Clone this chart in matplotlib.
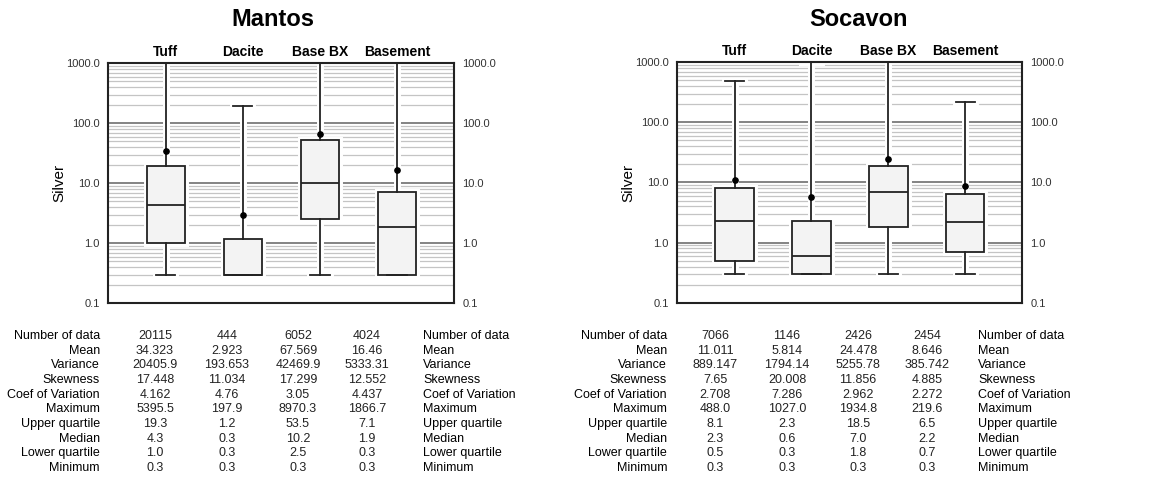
import matplotlib
matplotlib.use("Agg")
import matplotlib.pyplot as plt
from matplotlib.ticker import LogLocator, FixedLocator, FixedFormatter, NullFormatter

plt.rcParams["font.family"] = ["Liberation Sans", "DejaVu Sans"]

categories = ["Tuff", "Dacite", "Base BX", "Basement"]

stat_names = ["Number of data", "Mean", "Variance", "Skewness", "Coef of Variation",
              "Maximum", "Upper quartile", "Median", "Lower quartile", "Minimum"]

# Mantos
mantos_min = [0.3, 0.3, 0.3, 0.3]
mantos_q1 = [1.0, 0.3, 2.5, 0.3]
mantos_median = [4.3, 0.3, 10.2, 1.9]
mantos_q3 = [19.3, 1.2, 53.5, 7.1]
mantos_max = [5395.5, 197.9, 8970.3, 1866.7]
mantos_mean = [34.323, 2.923, 67.569, 16.46]
mantos_table = [
    ["20115", "444", "6052", "4024"],
    ["34.323", "2.923", "67.569", "16.46"],
    ["20405.9", "193.653", "42469.9", "5333.31"],
    ["17.448", "11.034", "17.299", "12.552"],
    ["4.162", "4.76", "3.05", "4.437"],
    ["5395.5", "197.9", "8970.3", "1866.7"],
    ["19.3", "1.2", "53.5", "7.1"],
    ["4.3", "0.3", "10.2", "1.9"],
    ["1.0", "0.3", "2.5", "0.3"],
    ["0.3", "0.3", "0.3", "0.3"],
]

# Socavon
socavon_min = [0.3, 0.3, 0.3, 0.3]
socavon_q1 = [0.5, 0.3, 1.8, 0.7]
socavon_median = [2.3, 0.6, 7.0, 2.2]
socavon_q3 = [8.1, 2.3, 18.5, 6.5]
socavon_max = [488.0, 1027.0, 1934.8, 219.6]
socavon_mean = [11.011, 5.814, 24.478, 8.646]
socavon_table = [
    ["7066", "1146", "2426", "2454"],
    ["11.011", "5.814", "24.478", "8.646"],
    ["889.147", "1794.14", "5255.78", "385.742"],
    ["7.65", "20.008", "11.856", "4.885"],
    ["2.708", "7.286", "2.962", "2.272"],
    ["488.0", "1027.0", "1934.8", "219.6"],
    ["8.1", "2.3", "18.5", "6.5"],
    ["2.3", "0.6", "7.0", "2.2"],
    ["0.5", "0.3", "1.8", "0.7"],
    ["0.3", "0.3", "0.3", "0.3"],
]

W, H = 1150, 490
INK = "#222222"


def draw_panel(ax, title, title_x, lo, q1, med, q3, hi, mean):
    stats = []
    for i, name in enumerate(categories):
        stats.append(dict(label=name, whislo=lo[i], q1=q1[i], med=med[i],
                          q3=q3[i], whishi=hi[i], mean=mean[i], fliers=[]))
    pos = list(range(1, len(categories) + 1))

    # white halo underneath, so the grid breaks around the boxes
    white = dict(color="white", linewidth=5)
    ax.bxp(stats, positions=pos, widths=0.5, patch_artist=True, capwidths=0.25,
           boxprops=dict(facecolor="white", edgecolor="white", linewidth=5),
           medianprops=dict(color="white", linewidth=0),
           whiskerprops=white, capprops=white, zorder=2)

    ax.bxp(stats, positions=pos, widths=0.5, showmeans=True,
           patch_artist=True, capwidths=0.25, zorder=3,
           boxprops=dict(facecolor="#f3f3f3", edgecolor=INK, linewidth=1.3),
           medianprops=dict(color=INK, linewidth=1.3),
           whiskerprops=dict(color=INK, linewidth=1.3),
           capprops=dict(color=INK, linewidth=1.3),
           meanprops=dict(marker="o", markerfacecolor="black",
                          markeredgecolor="black", markersize=3.8))

    ax.set_yscale("log")
    ax.set_ylim(0.1, 1000)
    ax.set_xlim(0.25, 4.74)

    majors = [0.1, 1, 10, 100, 1000]
    ax.yaxis.set_major_locator(FixedLocator(majors))
    ax.yaxis.set_major_formatter(FixedFormatter(["0.1", "1.0", "10.0", "100.0", "1000.0"]))
    ax.yaxis.set_minor_locator(LogLocator(base=10, subs=range(2, 10)))
    ax.yaxis.set_minor_formatter(NullFormatter())
    ax.grid(True, which="major", axis="y", color="#7a7a7a", linewidth=1.3, zorder=0)
    ax.grid(True, which="minor", axis="y", color="#c4c4c4", linewidth=0.9, zorder=0)
    ax.set_axisbelow(True)
    ax.tick_params(axis="y", which="both", length=0, left=True, right=True,
                   labelleft=True, labelright=True, labelsize=8,
                   labelcolor="#333333", pad=6)

    ax.set_xticks(pos)
    ax.set_xticklabels(categories, fontsize=10, fontweight="bold")
    ax.tick_params(axis="x", length=0, bottom=False, top=True,
                   labelbottom=False, labeltop=True, pad=3)

    for side in ["left", "right", "top", "bottom"]:
        ax.spines[side].set_linewidth(1.5)
        ax.spines[side].set_color(INK)
        ax.spines[side].set_zorder(6)

    ax.set_ylabel("Silver", fontsize=11, labelpad=0)
    ax.figure.text(title_x / W, 1 - 20 / H, title, fontsize=17,
                   fontweight="bold", ha="center", va="center")


def draw_table(fig, rows, label_x, value_xs, right_x):
    y0, dy = 336, 14.65
    for r, name in enumerate(stat_names):
        y = 1 - (y0 + r * dy) / H
        fig.text(label_x / W, y, name, ha="right", va="center", fontsize=9)
        fig.text(right_x / W, y, name, ha="left", va="center", fontsize=9)
        for c, val in enumerate(rows[r]):
            fig.text(value_xs[c] / W, y, val, ha="center", va="center",
                     fontsize=9, color=INK)


fig = plt.figure(figsize=(W / 100, H / 100), dpi=100)

ax1 = fig.add_axes([108 / W, 1 - 303.3 / H, 346 / W, 240 / H])
ax2 = fig.add_axes([677 / W, 1 - 302.7 / H, 345 / W, 240.4 / H])

draw_panel(ax1, "Mantos", 273, mantos_min, mantos_q1, mantos_median,
           mantos_q3, mantos_max, mantos_mean)
draw_panel(ax2, "Socavon", 859, socavon_min, socavon_q1, socavon_median,
           socavon_q3, socavon_max, socavon_mean)

draw_table(fig, mantos_table, 100, [155, 227, 298, 367], 423)
draw_table(fig, socavon_table, 667, [715, 787, 858, 927], 978)

fig.savefig("out.png", dpi=100)
